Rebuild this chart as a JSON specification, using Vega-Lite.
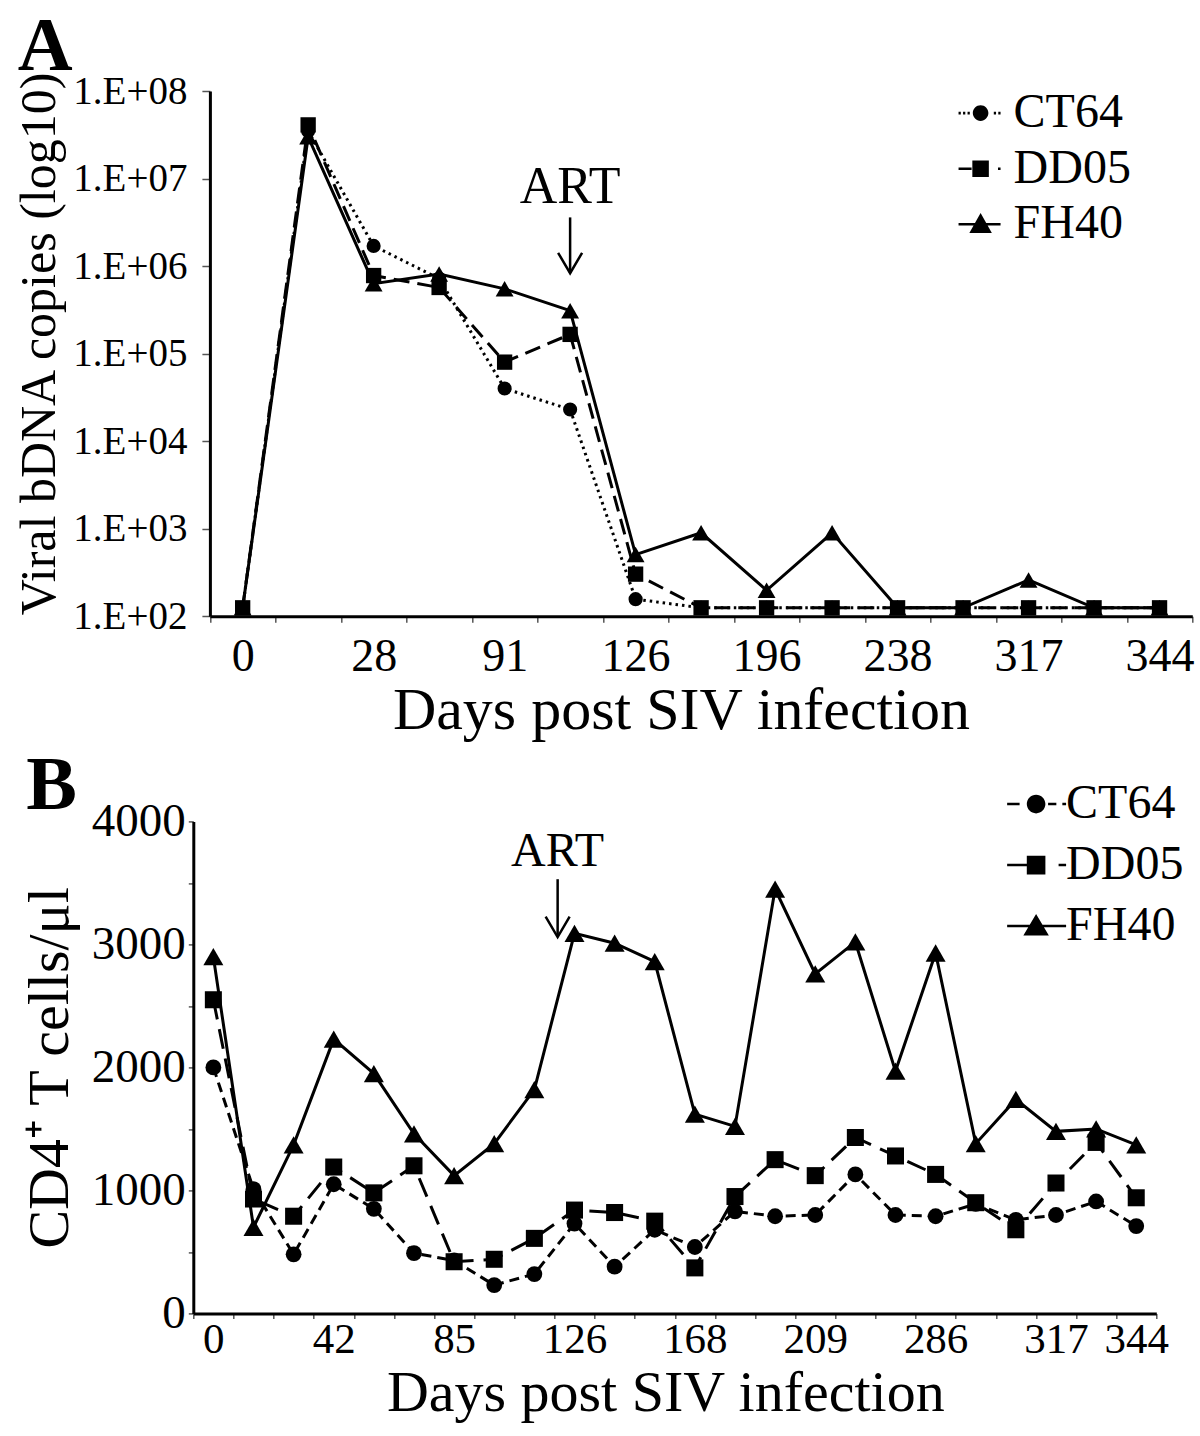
{
  "$schema": "https://vega.github.io/schema/vega-lite/v6.json",
  "background": "white",
  "padding": {"left": 14.3, "top": 8, "right": 2, "bottom": 5},
  "config": {
    "font": "Liberation Serif",
    "view": {"stroke": null},
    "axis": {"labelFont": "Liberation Serif", "titleFont": "Liberation Serif", "labelColor": "black", "titleColor": "black", "titleFontWeight": "normal", "domainColor": "black", "domainWidth": 3, "tickColor": "#555", "tickWidth": 1.5, "grid": false, "labelOverlap": false},
    "legend": {"labelFont": "Liberation Serif", "labelColor": "black"},
    "title": {"font": "Liberation Serif", "color": "black"}
  },
  "resolve": {"scale": {"shape": "independent"}, "legend": {"shape": "independent"}},
  "spacing": 6.4,
  "vconcat": [
    {
      "width": 999,
      "height": 525.3,
      "title": {"text": "A", "anchor": "start", "frame": "bounds", "fontSize": 76, "fontWeight": "bold", "dx": 3, "dy": 15, "offset": 0},
      "data": {"values": [
        {"s": "CT64", "d": 0, "v": 125}, {"s": "CT64", "d": 14, "v": 35000000}, {"s": "CT64", "d": 28, "v": 1700000}, {"s": "CT64", "d": 56, "v": 720000}, {"s": "CT64", "d": 91, "v": 40000}, {"s": "CT64", "d": 112, "v": 23000}, {"s": "CT64", "d": 126, "v": 157}, {"s": "CT64", "d": 161, "v": 125}, {"s": "CT64", "d": 196, "v": 125}, {"s": "CT64", "d": 217, "v": 125}, {"s": "CT64", "d": 238, "v": 125}, {"s": "CT64", "d": 280, "v": 125}, {"s": "CT64", "d": 317, "v": 125}, {"s": "CT64", "d": 330, "v": 125}, {"s": "CT64", "d": 344, "v": 125},
        {"s": "FH40", "d": 0, "v": 125}, {"s": "FH40", "d": 14, "v": 30000000}, {"s": "FH40", "d": 28, "v": 630000}, {"s": "FH40", "d": 56, "v": 810000}, {"s": "FH40", "d": 91, "v": 550000}, {"s": "FH40", "d": 112, "v": 310000}, {"s": "FH40", "d": 126, "v": 507}, {"s": "FH40", "d": 161, "v": 900}, {"s": "FH40", "d": 196, "v": 198}, {"s": "FH40", "d": 217, "v": 900}, {"s": "FH40", "d": 238, "v": 125}, {"s": "FH40", "d": 280, "v": 125}, {"s": "FH40", "d": 317, "v": 260}, {"s": "FH40", "d": 330, "v": 125}, {"s": "FH40", "d": 344, "v": 125},
        {"s": "DD05", "d": 0, "v": 125}, {"s": "DD05", "d": 14, "v": 41000000}, {"s": "DD05", "d": 28, "v": 780000}, {"s": "DD05", "d": 56, "v": 570000}, {"s": "DD05", "d": 91, "v": 80000}, {"s": "DD05", "d": 112, "v": 166000}, {"s": "DD05", "d": 126, "v": 303}, {"s": "DD05", "d": 161, "v": 125}, {"s": "DD05", "d": 196, "v": 125}, {"s": "DD05", "d": 217, "v": 125}, {"s": "DD05", "d": 238, "v": 125}, {"s": "DD05", "d": 280, "v": 125}, {"s": "DD05", "d": 317, "v": 125}, {"s": "DD05", "d": 330, "v": 125}, {"s": "DD05", "d": 344, "v": 125}
      ]},
      "layer": [
        {
          "transform": [{"filter": "datum.s == 'CT64'"}],
          "mark": {"type": "line", "color": "black", "strokeWidth": 3, "strokeDash": [2.5, 4], "point": {"shape": "circle", "filled": true, "size": 200, "color": "black", "opacity": 1}},
          "encoding": {
            "x": {"field": "d", "type": "ordinal", "bandPosition": 0.5, "title": "Days post SIV infection", "scale": {"type": "band", "paddingInner": 0, "paddingOuter": 0, "rangeMin": 16.6},
              "axis": {"tickBand": "extent", "labelAngle": 0, "labelFontSize": 46, "labelPadding": 12, "tickSize": 6, "titleFontSize": 60, "titlePadding": 2, "titleX": 487.6, "labelExpr": "indexof([0,28,91,126,196,238,317,344], datum.value) >= 0 ? datum.label : ''"}},
            "y": {"field": "v", "type": "quantitative", "title": "Viral bDNA copies (log10)", "scale": {"type": "log", "domain": [100, 100000000], "nice": false},
              "axis": {"offset": -16.6, "values": [100, 1000, 10000, 100000, 1000000, 10000000, 100000000], "labelExpr": "'1.E+0' + format(log(datum.value)/LN10, '.0f')", "tickSize": 8, "labelPadding": 15, "labelFontSize": 39, "titleFontSize": 50, "titlePadding": 8, "titleY": 252.5}}
          }
        },
        {
          "transform": [{"filter": "datum.s == 'FH40'"}],
          "mark": {"type": "line", "color": "black", "strokeWidth": 3, "point": {"shape": "triangle-up", "filled": true, "size": 320, "color": "black", "opacity": 1}},
          "encoding": {
            "x": {"field": "d", "type": "ordinal", "bandPosition": 0.5, "title": "Days post SIV infection"},
            "y": {"field": "v", "type": "quantitative", "title": "Viral bDNA copies (log10)"}
          }
        },
        {
          "transform": [{"filter": "datum.s == 'DD05'"}],
          "mark": {"type": "line", "color": "black", "strokeWidth": 3, "strokeDash": [16, 8], "point": {"shape": "square", "filled": true, "size": 235, "color": "black", "opacity": 1}},
          "encoding": {
            "x": {"field": "d", "type": "ordinal", "bandPosition": 0.5, "title": "Days post SIV infection"},
            "y": {"field": "v", "type": "quantitative", "title": "Viral bDNA copies (log10)"}
          }
        },
        {
          "data": {"values": [{"d": 112, "top": 3600000, "tip": 830000, "lab": "ART"}]},
          "layer": [
            {"mark": {"type": "rule", "color": "black", "strokeWidth": 2.5},
             "encoding": {"x": {"field": "d", "type": "ordinal", "bandPosition": 0.5, "title": "Days post SIV infection"}, "y": {"field": "top", "type": "quantitative", "title": "Viral bDNA copies (log10)"}, "y2": {"field": "tip"}}},
            {"mark": {"type": "point", "shape": "M-1,-1.7L0,0L1,-1.7", "filled": false, "color": "black", "strokeWidth": 2.5, "opacity": 1, "size": 576},
             "encoding": {"x": {"field": "d", "type": "ordinal", "bandPosition": 0.5, "title": "Days post SIV infection"}, "y": {"field": "tip", "type": "quantitative", "title": "Viral bDNA copies (log10)"}}},
            {"mark": {"type": "text", "fontSize": 52, "baseline": "bottom", "dy": -3, "color": "black"},
             "encoding": {"x": {"field": "d", "type": "ordinal", "bandPosition": 0.5, "title": "Days post SIV infection"}, "y": {"field": "top", "type": "quantitative", "title": "Viral bDNA copies (log10)"}, "text": {"field": "lab"}}}
          ]
        },
        {
          "data": {"values": [{"s": "CT64"}, {"s": "DD05"}, {"s": "FH40"}]},
          "transform": [{"filter": "datum.s == 'none'"}],
          "mark": {"type": "point", "filled": true, "color": "black", "opacity": 1, "strokeWidth": 0},
          "encoding": {
            "shape": {"field": "s", "type": "nominal",
              "scale": {"domain": ["CT64", "DD05", "FH40"], "range": [
                "M-1.47,-0.085H-1.32V0.085H-1.47Z M-1.17,-0.085H-1.02V0.085H-1.17Z M-0.87,-0.085H-0.72V0.085H-0.87Z M-0.52,0A0.52,0.52 0 1,1 0.52,0A0.52,0.52 0 1,1 -0.52,0Z M0.88,-0.085H1.03V0.085H0.88Z M1.18,-0.085H1.33V0.085H1.18Z",
                "M-1.47,-0.085H-0.6V0.085H-1.47Z M-0.55,-0.55H0.55V0.55H-0.55Z M1.16,-0.085H1.33V0.085H1.16Z",
                "M-1.47,-0.085H1.33V0.085H-1.47Z M0,-0.75L0.75,0.58H-0.75Z"]},
              "legend": {"title": null, "orient": "none", "legendX": 763.3, "legendY": -1.9, "symbolSize": 900, "labelFontSize": 48, "labelOffset": 9, "rowPadding": 7.6, "padding": 0, "encode": {"symbols": {"update": {"fill": {"value": "black"}, "stroke": {"value": "transparent"}, "opacity": {"value": 1}}}}}}
          }
        }
      ]
    },
    {
      "width": 963,
      "height": 492,
      "title": {"text": "B", "anchor": "start", "frame": "bounds", "fontSize": 76, "fontWeight": "bold", "dx": 5, "dy": 45, "offset": 0},
      "data": {"values": [
        {"s": "CT64", "d": 0, "v": 2000}, {"s": "CT64", "d": 14, "v": 1010}, {"s": "CT64", "d": 28, "v": 480}, {"s": "CT64", "d": 42, "v": 1050}, {"s": "CT64", "d": 56, "v": 850}, {"s": "CT64", "d": 70, "v": 490}, {"s": "CT64", "d": 85, "v": 430}, {"s": "CT64", "d": 98, "v": 230}, {"s": "CT64", "d": 112, "v": 320}, {"s": "CT64", "d": 126, "v": 730}, {"s": "CT64", "d": 140, "v": 380}, {"s": "CT64", "d": 154, "v": 680}, {"s": "CT64", "d": 168, "v": 540}, {"s": "CT64", "d": 182, "v": 830}, {"s": "CT64", "d": 196, "v": 790}, {"s": "CT64", "d": 209, "v": 800}, {"s": "CT64", "d": 238, "v": 1130}, {"s": "CT64", "d": 265, "v": 800}, {"s": "CT64", "d": 286, "v": 790}, {"s": "CT64", "d": 295, "v": 890}, {"s": "CT64", "d": 308, "v": 760}, {"s": "CT64", "d": 317, "v": 800}, {"s": "CT64", "d": 330, "v": 910}, {"s": "CT64", "d": 344, "v": 710},
        {"s": "DD05", "d": 0, "v": 2550}, {"s": "DD05", "d": 14, "v": 930}, {"s": "DD05", "d": 28, "v": 790}, {"s": "DD05", "d": 42, "v": 1190}, {"s": "DD05", "d": 56, "v": 980}, {"s": "DD05", "d": 70, "v": 1200}, {"s": "DD05", "d": 85, "v": 420}, {"s": "DD05", "d": 98, "v": 440}, {"s": "DD05", "d": 112, "v": 610}, {"s": "DD05", "d": 126, "v": 840}, {"s": "DD05", "d": 140, "v": 820}, {"s": "DD05", "d": 154, "v": 750}, {"s": "DD05", "d": 168, "v": 370}, {"s": "DD05", "d": 182, "v": 950}, {"s": "DD05", "d": 196, "v": 1250}, {"s": "DD05", "d": 209, "v": 1120}, {"s": "DD05", "d": 238, "v": 1430}, {"s": "DD05", "d": 265, "v": 1280}, {"s": "DD05", "d": 286, "v": 1130}, {"s": "DD05", "d": 295, "v": 900}, {"s": "DD05", "d": 308, "v": 680}, {"s": "DD05", "d": 317, "v": 1060}, {"s": "DD05", "d": 330, "v": 1390}, {"s": "DD05", "d": 344, "v": 940},
        {"s": "FH40", "d": 0, "v": 2900}, {"s": "FH40", "d": 14, "v": 700}, {"s": "FH40", "d": 28, "v": 1370}, {"s": "FH40", "d": 42, "v": 2230}, {"s": "FH40", "d": 56, "v": 1950}, {"s": "FH40", "d": 70, "v": 1460}, {"s": "FH40", "d": 85, "v": 1120}, {"s": "FH40", "d": 98, "v": 1380}, {"s": "FH40", "d": 112, "v": 1820}, {"s": "FH40", "d": 126, "v": 3090}, {"s": "FH40", "d": 140, "v": 3010}, {"s": "FH40", "d": 154, "v": 2860}, {"s": "FH40", "d": 168, "v": 1620}, {"s": "FH40", "d": 182, "v": 1520}, {"s": "FH40", "d": 196, "v": 3450}, {"s": "FH40", "d": 209, "v": 2760}, {"s": "FH40", "d": 238, "v": 3020}, {"s": "FH40", "d": 265, "v": 1970}, {"s": "FH40", "d": 286, "v": 2930}, {"s": "FH40", "d": 295, "v": 1380}, {"s": "FH40", "d": 308, "v": 1740}, {"s": "FH40", "d": 317, "v": 1480}, {"s": "FH40", "d": 330, "v": 1500}, {"s": "FH40", "d": 344, "v": 1370}
      ]},
      "layer": [
        {
          "transform": [{"filter": "datum.s == 'FH40'"}],
          "mark": {"type": "line", "color": "black", "strokeWidth": 3, "point": {"shape": "triangle-up", "filled": true, "size": 400, "color": "black", "opacity": 1}},
          "encoding": {
            "x": {"field": "d", "type": "ordinal", "bandPosition": 0.5, "title": "Days post SIV infection", "scale": {"type": "band", "paddingInner": 0, "paddingOuter": 0},
              "axis": {"tickBand": "extent", "labelAngle": 0, "labelFontSize": 43, "labelPadding": 0, "tickSize": 5, "titleFontSize": 58, "titlePadding": 3, "titleX": 472, "labelExpr": "indexof([0,42,85,126,168,209,286,317,344], datum.value) >= 0 ? datum.label : ''"}},
            "y": {"field": "v", "type": "quantitative", "title": "CD4⁺ T cells/μl", "scale": {"domain": [0, 4000], "nice": false},
              "axis": {"values": [0, 500, 1000, 1500, 2000, 2500, 3000, 3500, 4000], "format": "d", "labelExpr": "datum.value % 1000 == 0 ? datum.label : ''", "tickSize": 5, "labelPadding": 3, "labelFontSize": 47, "titleFontSize": 58, "titlePadding": 12}}
          }
        },
        {
          "transform": [{"filter": "datum.s == 'DD05'"}],
          "mark": {"type": "line", "color": "black", "strokeWidth": 3, "strokeDash": [20, 10], "point": {"shape": "square", "filled": true, "size": 290, "color": "black", "opacity": 1}},
          "encoding": {
            "x": {"field": "d", "type": "ordinal", "bandPosition": 0.5, "title": "Days post SIV infection"},
            "y": {"field": "v", "type": "quantitative", "title": "CD4⁺ T cells/μl"}
          }
        },
        {
          "transform": [{"filter": "datum.s == 'CT64'"}],
          "mark": {"type": "line", "color": "black", "strokeWidth": 3, "strokeDash": [10, 6], "point": {"shape": "circle", "filled": true, "size": 250, "color": "black", "opacity": 1}},
          "encoding": {
            "x": {"field": "d", "type": "ordinal", "bandPosition": 0.5, "title": "Days post SIV infection"},
            "y": {"field": "v", "type": "quantitative", "title": "CD4⁺ T cells/μl"}
          }
        },
        {
          "data": {"values": [{"d": 126, "top": 3530, "tip": 3060, "lab": "ART"}]},
          "layer": [
            {"mark": {"type": "rule", "color": "black", "strokeWidth": 2.5},
             "encoding": {"x": {"field": "d", "type": "ordinal", "bandPosition": 0.08, "title": "Days post SIV infection"}, "y": {"field": "top", "type": "quantitative", "title": "CD4⁺ T cells/μl"}, "y2": {"field": "tip"}}},
            {"mark": {"type": "point", "shape": "M-1,-1.7L0,0L1,-1.7", "filled": false, "color": "black", "strokeWidth": 2.5, "opacity": 1, "size": 576},
             "encoding": {"x": {"field": "d", "type": "ordinal", "bandPosition": 0.08, "title": "Days post SIV infection"}, "y": {"field": "tip", "type": "quantitative", "title": "CD4⁺ T cells/μl"}}},
            {"mark": {"type": "text", "fontSize": 48, "baseline": "bottom", "dy": -3, "color": "black"},
             "encoding": {"x": {"field": "d", "type": "ordinal", "bandPosition": 0.08, "title": "Days post SIV infection"}, "y": {"field": "top", "type": "quantitative", "title": "CD4⁺ T cells/μl"}, "text": {"field": "lab"}}}
          ]
        },
        {
          "data": {"values": [{"s": "CT64"}, {"s": "DD05"}, {"s": "FH40"}]},
          "transform": [{"filter": "datum.s == 'none'"}],
          "mark": {"type": "point", "filled": true, "color": "black", "opacity": 1, "strokeWidth": 0},
          "encoding": {
            "shape": {"field": "s", "type": "nominal",
              "scale": {"domain": ["CT64", "DD05", "FH40"], "range": [
                "M-1.93,-0.085H-1.1V0.085H-1.93Z M-0.62,0A0.62,0.62 0 1,1 0.62,0A0.62,0.62 0 1,1 -0.62,0Z M0.8,-0.085H1.35V0.085H0.8Z M1.75,-0.085H2.0V0.085H1.75Z",
                "M-1.93,-0.085H-0.6V0.085H-1.93Z M-0.62,-0.62H0.62V0.62H-0.62Z M1.5,-0.085H2.0V0.085H1.5Z",
                "M-1.93,-0.085H2.0V0.085H-1.93Z M0,-0.8L0.85,0.62H-0.85Z"]},
              "legend": {"title": null, "orient": "none", "legendX": 818.8, "legendY": -41.3, "symbolSize": 900, "labelFontSize": 48, "labelOffset": 6, "rowPadding": 13, "padding": 0, "encode": {"symbols": {"update": {"fill": {"value": "black"}, "stroke": {"value": "transparent"}, "opacity": {"value": 1}}}}}}
          }
        }
      ]
    }
  ]
}
